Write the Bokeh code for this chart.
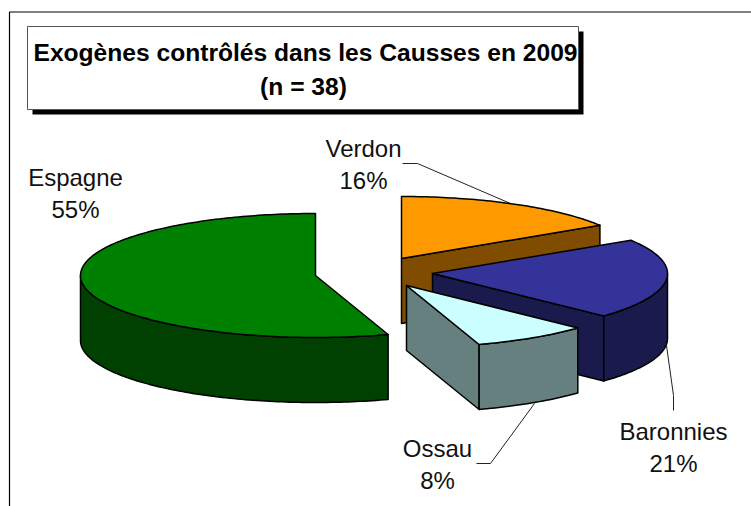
import numpy as np
from bokeh.plotting import figure
from bokeh.models import Range1d
from bokeh.core.properties import value
from bokeh.embed import file_html
from bokeh.resources import INLINE

# Data, clockwise from 12 o'clock
categories = ["Verdon", "Baronnies", "Ossau", "Espagne"]
shares = [16, 21, 8, 55]
title_lines = ["Exogènes contrôlés dans les Causses en 2009", "(n = 38)"]

# Style and layout
top_colors = {"Verdon": "#FF9900", "Baronnies": "#333399", "Ossau": "#CCFFFF", "Espagne": "#008000"}
side_colors = {"Verdon": "#804D00", "Baronnies": "#1A1A4D", "Ossau": "#668080", "Espagne": "#004000"}
apex = {"Verdon": (401, 258), "Baronnies": (432, 273), "Ossau": (406, 285), "Espagne": (315, 275)}
label_pos = {"Verdon": (363, 148), "Baronnies": (673, 431), "Ossau": (437, 448), "Espagne": (75, 177)}
leaders = {
    "Verdon": ([402, 417, 510], [163, 163, 203]),
    "Baronnies": ([666, 673, 673], [345, 395, 410]),
    "Ossau": ([476, 490, 534], [463, 463, 403]),
}
RX, RY, DEPTH = 235, 62, 65
FONT = "Liberation Sans"

p = figure(width=751, height=506, output_backend="svg", toolbar_location=None,
           x_range=Range1d(0, 751), y_range=Range1d(506, 0),
           min_border=0, outline_line_color=None, background_fill_color="white")
p.axis.visible = False
p.grid.visible = False

# Chart frame (open on the right and bottom, cropped in the reference)
p.line([9, 9, 751], [506, 11.5, 11.5], line_color="black", line_width=1.2)

# Title box with drop shadow
p.quad(left=[32], right=[583], top=[31], bottom=[114], fill_color="black", line_color=None)
p.quad(left=[27], right=[578], top=[26], bottom=[109], fill_color="white", line_color="#555555", line_width=1)
p.text(x=[305, 303], y=[52, 86], text=title_lines, text_font=value(FONT), text_font_style="bold",
       text_font_size="24.6px", text_align="center", text_baseline="alphabetic", text_color="black")

# Leader lines
for name, (lx, ly) in leaders.items():
    p.line(lx, ly, line_color="#222222", line_width=1)


def arc(name, a0, a1):
    cx, cy = apex[name]
    t = np.radians(np.linspace(a0, a1, max(2, int(abs(a1 - a0)) + 1)))
    return cx + RX * np.sin(t), cy - RY * np.cos(t)


def face(xs, ys, color):
    p.patch(list(xs), list(ys), fill_color=color, line_color="black", line_width=1.5, line_join="round")


spans = {}
start = 0.0
for name, share in zip(categories, shares):
    spans[name] = (start, start + share * 3.6)
    start += share * 3.6

# Painter's order as in the reference: Espagne, Verdon, Baronnies, Ossau
for name in ["Espagne", "Verdon", "Baronnies", "Ossau"]:
    a0, a1 = spans[name]
    cx, cy = apex[name]
    side = side_colors[name]
    # Cut face from the apex to the slice's end, visible if it faces the viewer
    if a1 < 180:
        ax, ay = arc(name, a1, a1)
        ex, ey = ax[-1], ay[-1]
        face([cx, ex, ex, cx], [cy, ey, ey + DEPTH, cy + DEPTH], side)
    # Outer wall, front half of the rim only
    w0, w1 = max(a0, 90), min(a1, 270)
    if w1 > w0:
        ax, ay = arc(name, w0, w1)
        face(np.r_[ax, ax[::-1]], np.r_[ay, ay[::-1] + DEPTH], side)
    # Top
    ax, ay = arc(name, a0, a1)
    face(np.r_[cx, ax], np.r_[cy, ay], top_colors[name])

# Labels
for name, share in zip(categories, shares):
    lx, ly = label_pos[name]
    p.text(x=[lx, lx], y=[ly, ly + 32], text=[name, f"{share}%"], text_font=value(FONT),
           text_font_size="24px", text_align="center", text_baseline="alphabetic", text_color="#111111")

open("out.html", "w").write(file_html(p, INLINE))
